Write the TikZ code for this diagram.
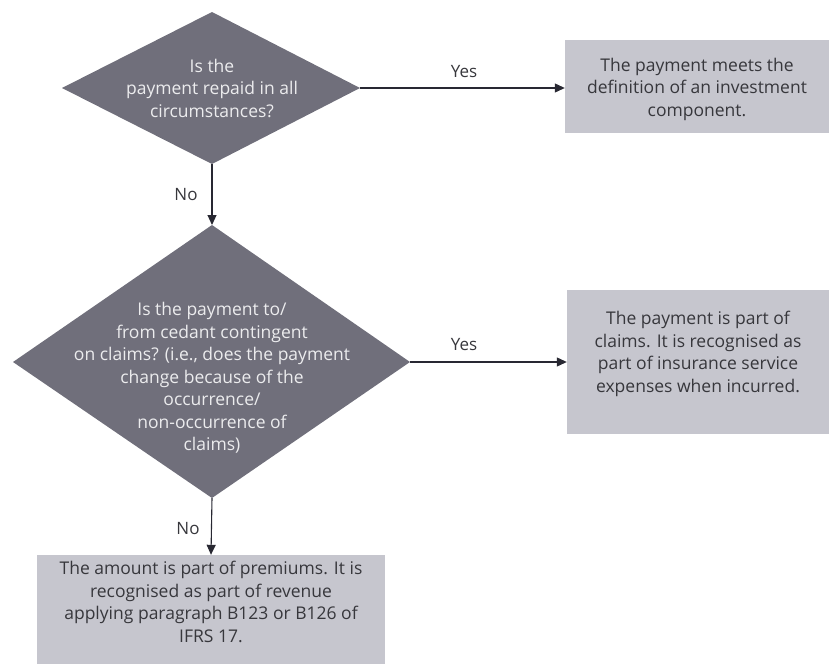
\documentclass[tikz,border=0pt]{standalone}
\usepackage{fontspec}
\setmainfont{Open Sans}
\usetikzlibrary{arrows.meta,calc}
\definecolor{dfill}{RGB}{112,111,123}
\definecolor{bfill}{RGB}{198,198,206}
\definecolor{btext}{RGB}{55,55,60}
\definecolor{dtext}{RGB}{236,236,238}
\definecolor{lcol}{RGB}{40,40,50}
\begin{document}
\begin{tikzpicture}[x=1pt,y=-1pt,
  dshape/.style={fill=dfill,draw=none},
  dlabel/.style={text=dtext,align=center,font=\fontsize{17.5}{22.5}\selectfont,inner sep=0pt},
  box/.style={fill=bfill,draw=none,inner sep=0pt},
  btxt/.style={text=btext,align=center,font=\fontsize{17.5}{22.5}\selectfont,inner sep=0pt},
  conn/.style={draw=lcol,line width=1.1pt,-{Triangle[length=10pt,width=9pt]}},
  elabel/.style={text=btext,font=\fontsize{17}{20}\selectfont,inner sep=0pt}]
\useasboundingbox (0,0) rectangle (830,664);
% diamond 1
\coordinate (d1t) at (212,12);
\coordinate (d1r) at (360,88);
\coordinate (d1b) at (212,164);
\coordinate (d1l) at (62,88);
\path[dshape] (d1t) -- (d1r) -- (d1b) -- (d1l) -- cycle;
\node[dlabel] (q1) at (212,88) {Is the\\payment repaid in all\\circumstances?};
% diamond 2
\coordinate (d2t) at (212,225);
\coordinate (d2r) at (410,362);
\coordinate (d2b) at (212,498);
\coordinate (d2l) at (13,362);
\path[dshape] (d2t) -- (d2r) -- (d2b) -- (d2l) -- cycle;
\node[dlabel] (q2) at (212,378) {Is the payment to/\\from cedant contingent\\on claims? (i.e., does the payment\\change because of the\\occurrence/\\non-occurrence of\\claims)};
% boxes
\node[box,minimum width=264,minimum height=93] (b1) at (697,86.5) {};
\node[btxt] (t1) at (697,89) {The payment meets the\\definition of an investment\\component.};
\node[box,minimum width=262,minimum height=144] (b2) at (698,362) {};
\node[btxt] (t2) at (698,354) {The payment is part of\\claims. It is recognised as\\part of insurance service\\expenses when incurred.};
\node[box,minimum width=348,minimum height=110] (b3) at (211,610) {};
\node[btxt] (t3) at (211,602) {The amount is part of premiums. It is\\recognised as part of revenue\\applying paragraph B123 or B126 of\\IFRS 17.};
% connectors
\draw[conn] (d1r) -- (b1.west |- d1r);
\draw[conn] (d1b) -- (d2t);
\draw[conn] (d2r) -- (b2.west |- d2r);
\draw[conn] (d2b) -- (b3.north);
% labels
\node[elabel] (y1) at (464,72) {Yes};
\node[elabel] (y2) at (464,345) {Yes};
\node[elabel] (n1) at (186,195) {No};
\node[elabel] (n2) at (188,529) {No};
\end{tikzpicture}
\end{document}
